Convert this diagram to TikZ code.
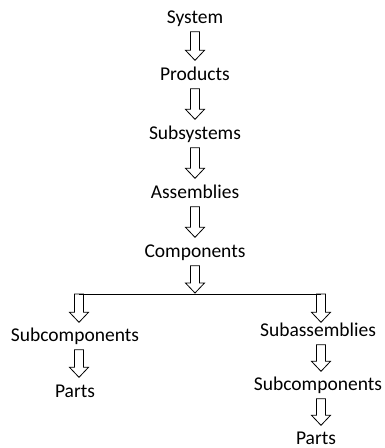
\documentclass[tikz,border=0pt]{standalone}
\usepackage{fontspec}
\setmainfont{Carlito}
\usetikzlibrary{calc}

\tikzset{
  level/.style={inner sep=0pt, text height=13pt, text depth=0pt,
    font=\fontsize{19.5}{22}\selectfont},
  % hollow block arrow from the start point down to the target point
  blockarrow/.style={draw=black, line width=0.8pt, line join=miter,
    to path={let \p1=(\tikztostart), \p2=(\tikztotarget) in
      (\x1-4.5pt,\y1) -- (\x1-4.5pt,\y2+10pt) -- (\x1-9.5pt,\y2+10pt)
      -- (\x1,\y2) -- (\x1+9.5pt,\y2+10pt) -- (\x1+4.5pt,\y2+10pt)
      -- (\x1+4.5pt,\y1) -- cycle}},
  branch/.style={draw=black, line width=0.8pt}
}

\begin{document}
\begin{tikzpicture}[x=1pt, y=-1pt]
  \useasboundingbox (0,0) rectangle (384,448);

  % main chain
  \node[level] (sys)    at (195,17)  {System};
  \node[level] (prod)   at (195,74)  {Products};
  \node[level] (subsys) at (195,133) {Subsystems};
  \node[level] (asm)    at (195,192) {Assemblies};
  \node[level] (comp)   at (195,251) {Components};

  % branch bar
  \coordinate (jc) at (195,293);
  \coordinate (jl) at (79,294);
  \coordinate (jr) at (321,294);

  % left branch
  \node[level] (subcL)  at (75,335) {Subcomponents};
  \node[level] (partsL) at (75,391) {Parts};

  % right branch
  \node[level] (subaR)  at (318,330) {Subassemblies};
  \node[level] (subcR)  at (318,384) {Subcomponents};
  \node[level] (partsR) at (316,438) {Parts};

  \path[blockarrow] ($(sys.south)+(0,8)$)    to ($(prod.north)+(0,-7)$);
  \path[blockarrow] ($(prod.south)+(0,8)$)   to ($(subsys.north)+(0,-7)$);
  \path[blockarrow] ($(subsys.south)+(0,8)$) to ($(asm.north)+(0,-7)$);
  \path[blockarrow] ($(asm.south)+(0,8)$)    to ($(comp.north)+(0,-7)$);
  \path[blockarrow] ($(comp.south)+(0,8)$)   to (jc);

  \draw[branch] (jl) -- (jr);

  \path[blockarrow] (jl) to ($(subcL.north)+(0,-6)$);
  \path[blockarrow] ($(subcL.south -| jl)+(0,8)$) to ($(partsL.north)+(0,-7)$);

  \path[blockarrow] (jr) to ($(subaR.north)+(0,-1)$);
  \path[blockarrow] ($(subaR.south -| jr)+(0,8)$) to ($(subcR.north)+(0,-6)$);
  \path[blockarrow] ($(subcR.south -| jr)+(0,8)$) to ($(partsR.north)+(0,-6)$);
\end{tikzpicture}
\end{document}
